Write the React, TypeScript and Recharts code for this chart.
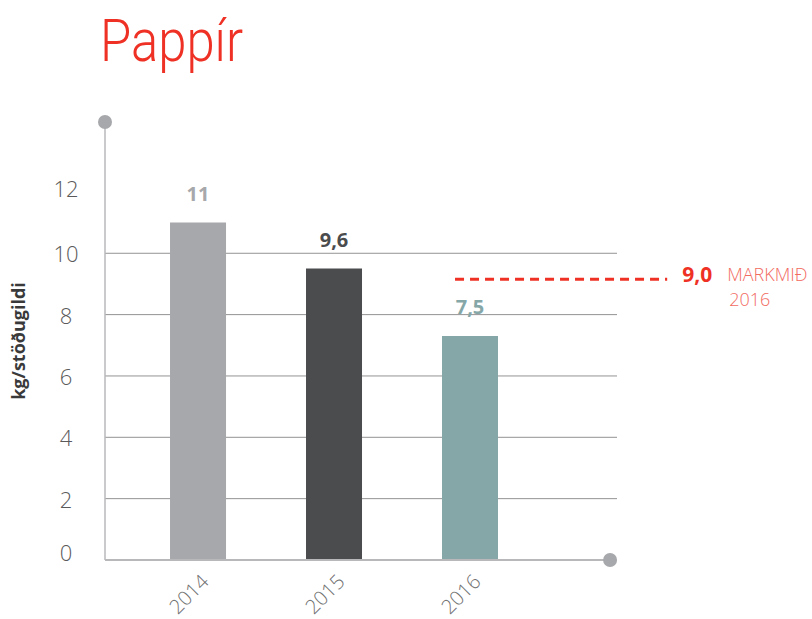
import React from "react";
import { BarChart, Bar, XAxis, YAxis, CartesianGrid, Cell, LabelList, ReferenceLine, ReferenceDot } from "recharts";

const years = ["2014", "2015", "2016"];
const values = [11, 9.5, 7.3];
const valueLabels = ["11", "9,6", "7,5"];
const barColors = ["#a7a8ab", "#4b4c4e", "#85a7a8"];
const yTicks = [0, 2, 4, 6, 8, 10, 12];
const gridValues = [2, 4, 6, 8, 10];
const targetValue = 9.15;
const targetLabel = "9,0";
const targetText = ["MARKMIÐ", "2016"];

// x axis is numeric so the axis line can start left of the first bar
const X_MIN = -0.684;
const X_MAX = 3.081;
const X_AXIS_END = 3.03;
const Y_MAX = 14.28;
const TARGET_FROM = 1.89;
const TARGET_TO = 3.45;

const FONT = "'Open Sans', 'DejaVu Sans', sans-serif";

const data = years.map((year, i) => ({ idx: i, year, value: values[i] }));

const YTick = (props: any) => {
  const { y, payload } = props;
  const shift = payload.value === 0 ? -8 : payload.value === 12 ? -4 : 0;
  return (
    <text x={66} y={y + shift} textAnchor="middle" dominantBaseline="central" fontFamily={FONT} fontWeight={300} fontSize={22} fill="#5a5a5a">
      {payload.value}
    </text>
  );
};

const XTick = (props: any) => {
  const { x, y, payload } = props;
  const tx = x + 12;
  const ty = y + 23;
  return (
    <text x={tx} y={ty} transform={`rotate(-45, ${tx}, ${ty})`} textAnchor="end" fontFamily={FONT} fontWeight={300} fontSize={20} fill="#6f6f6f">
      {years[payload.value]}
    </text>
  );
};

const YLabel = (props: any) => {
  const vb = props.viewBox || { x: 45, y: 122, height: 438 };
  const cx = 25;
  const cy = vb.y + vb.height / 2;
  return (
    <text x={cx} y={cy} transform={`rotate(-90, ${cx}, ${cy})`} textAnchor="middle" fontFamily={FONT} fontWeight={700} fontSize={18} fill="#3a3a3a">
      kg/stöðugildi
    </text>
  );
};

const BarValue = (props: any) => {
  const { x, y, width, index } = props;
  return (
    <text x={x + width / 2} y={y - 22} textAnchor="middle" fontFamily={FONT} fontWeight={700} fontSize={20} fill={barColors[index]}>
      {valueLabels[index]}
    </text>
  );
};

const TargetLabel = (props: any) => {
  const vb = props.viewBox || { x: 455, y: 280, width: 208 };
  const ex = vb.x + vb.width;
  const y = vb.y;
  return (
    <g>
      <text x={ex + 15} y={y + 3} fontFamily={FONT} fontWeight={700} fontSize={21} fill="#ee3124">
        {targetLabel}
      </text>
      <text x={ex + 60} y={y + 2} fontFamily={FONT} fontWeight={300} fontSize={18} fill="#f26b5f">
        {targetText[0]}
      </text>
      <text x={ex + 62} y={y + 27} fontFamily={FONT} fontWeight={300} fontSize={18} fill="#f26b5f">
        {targetText[1]}
      </text>
    </g>
  );
};

export default function App() {
  return (
    <div style={{ position: "absolute", left: 0, top: 0, width: 812, height: 619, background: "#fff" }}>
      <BarChart width={812} height={619} data={data} margin={{ top: 122, right: 195, bottom: 29, left: 45 }}>
        <CartesianGrid vertical={false} horizontalValues={gridValues} stroke="#939393" strokeWidth={1} />
        <XAxis
          type="number"
          dataKey="idx"
          domain={[X_MIN, X_MAX]}
          ticks={[0, 1, 2]}
          allowDataOverflow
          axisLine={false}
          tickLine={false}
          tickSize={0}
          tickMargin={0}
          height={30}
          tick={<XTick />}
        />
        <YAxis
          type="number"
          domain={[0, Y_MAX]}
          ticks={yTicks}
          allowDataOverflow
          width={60}
          axisLine={{ stroke: "#b8b8bb", strokeWidth: 1.5 }}
          tickLine={false}
          tick={<YTick />}
          label={<YLabel />}
        />
        <ReferenceLine
          segment={[{ x: X_MIN, y: 0 }, { x: X_AXIS_END, y: 0 }]}
          stroke="#b8b8bb"
          strokeWidth={2}
          ifOverflow="visible"
        />
        <Bar dataKey="value" barSize={56} isAnimationActive={false}>
          {data.map((d, i) => (
            <Cell key={d.year} fill={barColors[i]} />
          ))}
          <LabelList dataKey="value" content={<BarValue />} />
        </Bar>
        <ReferenceLine
          segment={[{ x: TARGET_FROM, y: targetValue }, { x: TARGET_TO, y: targetValue }]}
          stroke="#ee3124"
          strokeWidth={3}
          strokeDasharray="9 6"
          ifOverflow="visible"
          label={<TargetLabel />}
        />
        <ReferenceDot x={X_MIN} y={Y_MAX} r={7} fill="#a7a8ab" stroke="none" ifOverflow="visible" />
        <ReferenceDot x={X_AXIS_END} y={0} r={7} fill="#a7a8ab" stroke="none" ifOverflow="visible" />
      </BarChart>
      <svg width={812} height={100} style={{ position: "absolute", left: 0, top: 0, pointerEvents: "none" }}>
        <text x={100} y={61} fontFamily="Roboto, 'Open Sans', sans-serif" fontWeight={300} fontSize={60} fill="#ee3124" textLength={143} lengthAdjust="spacingAndGlyphs">
          Pappír
        </text>
      </svg>
    </div>
  );
}
